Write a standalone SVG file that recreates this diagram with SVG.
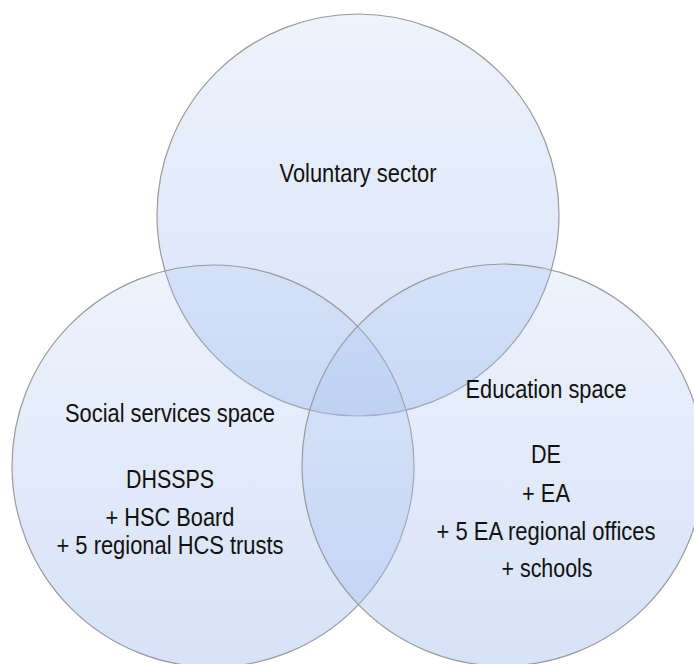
<svg xmlns="http://www.w3.org/2000/svg" width="694" height="664" viewBox="0 0 694 664">
  <defs>
    <!-- translucent blue wash, lighter at the top of each circle -->
    <linearGradient id="wash" x1="0" y1="0" x2="0" y2="1">
      <stop offset="0" stop-color="#aac3f0" stop-opacity="0.2"/>
      <stop offset="1" stop-color="#aac3f0" stop-opacity="0.48"/>
    </linearGradient>
  </defs>
  <style>
    .set { fill: url(#wash); stroke: #9a9a9a; stroke-width: 1.2; }
    .lbl { font-family: "Liberation Sans", Arial, sans-serif; font-size: 25px; fill: #111; text-anchor: middle; }
  </style>
  <rect width="694" height="664" fill="#ffffff"/>

  <g id="voluntary">
    <circle class="set" cx="358" cy="215" r="201"/>
    <text class="lbl" x="358" y="182" textLength="157" lengthAdjust="spacingAndGlyphs">Voluntary sector</text>
  </g>

  <g id="social">
    <circle class="set" cx="213" cy="466" r="201"/>
    <text class="lbl" x="170" y="422" textLength="210" lengthAdjust="spacingAndGlyphs">Social services space</text>
    <text class="lbl" x="170" y="488" textLength="88" lengthAdjust="spacingAndGlyphs">DHSSPS</text>
    <text class="lbl" x="170" y="526" textLength="129" lengthAdjust="spacingAndGlyphs">+ HSC Board</text>
    <text class="lbl" x="170" y="554" textLength="227" lengthAdjust="spacingAndGlyphs">+ 5 regional HCS trusts</text>
  </g>

  <g id="education">
    <circle class="set" cx="503" cy="465" r="201"/>
    <text class="lbl" x="546" y="398" textLength="161" lengthAdjust="spacingAndGlyphs">Education space</text>
    <text class="lbl" x="546" y="463" textLength="30" lengthAdjust="spacingAndGlyphs">DE</text>
    <text class="lbl" x="546" y="502" textLength="48" lengthAdjust="spacingAndGlyphs">+ EA</text>
    <text class="lbl" x="546" y="540" textLength="219" lengthAdjust="spacingAndGlyphs">+ 5 EA regional offices</text>
    <text class="lbl" x="547" y="577" textLength="91" lengthAdjust="spacingAndGlyphs">+ schools</text>
  </g>

  <g id="connectors"/>
</svg>
